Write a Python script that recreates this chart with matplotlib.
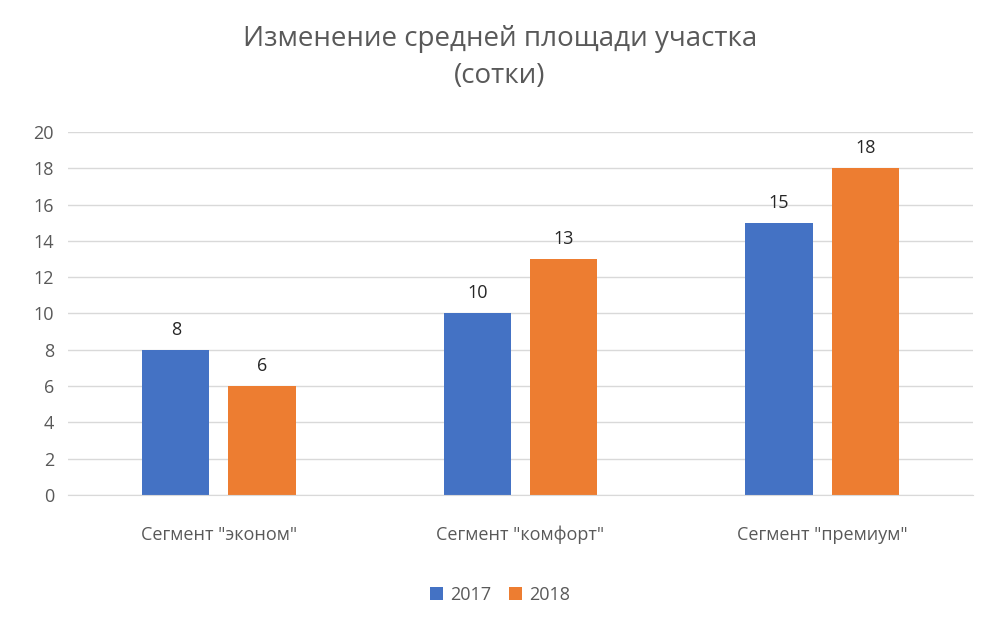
import numpy as np
import matplotlib
matplotlib.use("Agg")
import matplotlib.pyplot as plt

categories = ['Сегмент "эконом"', 'Сегмент "комфорт"', 'Сегмент "премиум"']
values_2017 = [8, 10, 15]
values_2018 = [6, 13, 18]
series_names = ["2017", "2018"]
yticks = [0, 2, 4, 6, 8, 10, 12, 14, 16, 18, 20]

TXT = "#595959"
plt.rcParams["font.family"] = "Open Sans"

fig = plt.figure(figsize=(10, 6.23), dpi=100)
ax = fig.add_axes([0.068, 0.2055, 0.905, 0.5826])
x = np.arange(len(categories))
w, off = 0.223, 0.143
b1 = ax.bar(x - off, values_2017, w, color="#4472C4", label=series_names[0], zorder=2)
b2 = ax.bar(x + off, values_2018, w, color="#ED7D31", label=series_names[1], zorder=2)
for bars in (b1, b2):
    ax.bar_label(bars, padding=8, fontsize=13, color="#262626")

ax.set_xlim(-0.5, 2.5)
ax.set_ylim(0, 20)
ax.set_yticks(yticks)
ax.set_xticks(x, categories)
ax.yaxis.grid(True, color="#D9D9D9", lw=1, zorder=0)
for s in ("top", "right", "left"):
    ax.spines[s].set_visible(False)
ax.spines["bottom"].set_color("#D9D9D9")
ax.tick_params(axis="both", length=0, labelsize=13, colors=TXT)
ax.tick_params(axis="x", pad=22)
ax.tick_params(axis="y", pad=10)

fig.suptitle("Изменение средней площади участка\n(сотки)", y=0.96,
             fontsize=20, color=TXT, linespacing=1.45)
fig.legend(loc="center", bbox_to_anchor=(0.5, 0.045), ncol=2, frameon=False,
           fontsize=13, labelcolor=TXT, handlelength=0.7, handleheight=0.7,
           handletextpad=0.4, columnspacing=1.0)
fig.savefig("out.png")
